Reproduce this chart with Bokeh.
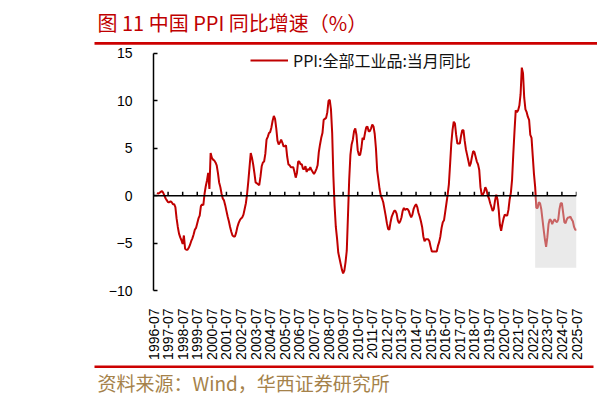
import math
from bokeh.plotting import figure
from bokeh.layouts import column
from bokeh.models import (Range1d, FixedTicker, Span, Legend, LegendItem, ColumnDataSource)
from bokeh.core.properties import value
from bokeh.embed import file_html
from bokeh.resources import INLINE

# ---------------- data (China PPI, YoY %, monthly) ----------------
first_year, first_month = 1996, 10
ppi_1996 = [0.3, 0.2, 0.3]
ppi_1997 = [0.4, 0.5, 0.3, 0.0, -0.3, -0.5, -0.7, -0.7, -0.6, -0.7, -0.9, -0.9]
ppi_1998 = [-1.2, -2.4, -3.3, -4.0, -4.4, -4.7, -5.1, -4.2, -5.6, -5.7, -5.7, -5.5]
ppi_1999 = [-5.2, -4.8, -4.5, -4.1, -3.6, -3.4, -2.9, -2.4, -2.1, -1.1, -0.9, -1.0]
ppi_2000 = [0.2, 1.0, 1.6, 2.4, 0.7, 4.5, 4.0, 3.8, 3.7, 3.5, 3.2, 2.4]
ppi_2001 = [1.4, 0.9, 0.2, -0.3, -0.5, -1.0, -1.6, -2.2, -2.7, -3.3, -3.8, -4.2]
ppi_2002 = [-4.3, -4.3, -3.9, -3.3, -2.9, -2.6, -2.4, -2.3, -2.0, -1.4, -0.8, 0.2]
ppi_2003 = [1.5, 3.0, 4.5, 4.0, 3.3, 2.4, 1.4, 1.3, 1.2, 1.1, 2.0, 3.1]
ppi_2004 = [3.5, 3.6, 4.4, 5.9, 6.2, 6.6, 6.7, 7.2, 7.9, 8.4, 8.1, 7.1]
ppi_2005 = [5.8, 5.4, 5.6, 5.9, 5.6, 5.2, 5.2, 5.3, 4.1, 3.3, 3.2, 3.0]
ppi_2006 = [3.0, 3.0, 2.5, 1.9, 2.4, 3.6, 3.6, 3.3, 3.3, 2.8, 2.8, 3.1]
ppi_2007 = [2.5, 2.8, 2.7, 3.0, 2.7, 2.5, 2.3, 2.5, 2.8, 3.2, 4.6, 5.4]
ppi_2008 = [6.1, 6.6, 8.0, 8.1, 8.2, 8.8, 10.0, 10.1, 9.1, 6.6, 2.0, -1.1]
ppi_2009 = [-3.3, -4.5, -6.0, -6.6, -7.2, -7.8, -8.2, -7.9, -7.0, -5.8, -2.1, 1.7]
ppi_2010 = [4.3, 5.4, 5.9, 6.8, 7.1, 6.4, 4.8, 4.3, 4.3, 5.0, 6.1, 5.9]
ppi_2011 = [6.6, 7.2, 7.3, 6.8, 6.8, 7.1, 7.5, 7.3, 6.5, 5.0, 2.7, 1.7]
ppi_2012 = [0.7, 0.0, -0.3, -0.7, -1.4, -2.1, -2.9, -3.5, -3.6, -2.8, -2.2, -1.9]
ppi_2013 = [-1.6, -1.6, -1.9, -2.6, -2.9, -2.7, -2.3, -1.6, -1.3, -1.5, -1.4, -1.4]
ppi_2014 = [-1.6, -2.0, -2.3, -2.0, -1.4, -1.1, -0.9, -1.2, -1.8, -2.2, -2.7, -3.3]
ppi_2015 = [-4.3, -4.8, -4.6, -4.6, -4.6, -4.8, -5.4, -5.9, -5.9, -5.9, -5.9, -5.9]
ppi_2016 = [-5.3, -4.9, -4.3, -3.4, -2.8, -2.6, -1.7, -0.8, 0.1, 1.2, 3.3, 5.5]
ppi_2017 = [6.9, 7.8, 7.6, 6.4, 5.5, 5.5, 5.5, 6.3, 6.9, 6.9, 5.8, 4.9]
ppi_2018 = [4.3, 3.7, 3.1, 3.4, 4.1, 4.7, 4.6, 4.1, 3.6, 3.3, 2.7, 0.9]
ppi_2019 = [0.1, 0.1, 0.4, 0.9, 0.6, 0.0, -0.3, -0.8, -1.2, -1.6, -1.4, -0.5]
ppi_2020 = [0.1, -0.4, -1.5, -3.1, -3.7, -3.0, -2.4, -2.0, -2.1, -2.1, -1.5, -0.4]
ppi_2021 = [0.3, 1.7, 4.4, 6.8, 9.0, 8.8, 9.0, 9.5, 10.7, 13.5, 12.9, 10.3]
ppi_2022 = [9.1, 8.8, 8.3, 8.0, 6.4, 6.1, 4.2, 2.3, 0.9, -1.3, -1.3, -0.7]
ppi_2023 = [-0.8, -1.4, -2.5, -3.6, -4.6, -5.4, -4.4, -3.0, -2.5, -2.6, -3.0, -2.7]
ppi_2024 = [-2.5, -2.7, -2.8, -2.5, -1.4, -0.8, -0.8, -1.8, -2.8, -2.9, -2.5, -2.3]
ppi_2025 = [-2.3, -2.2, -2.5, -2.7, -3.3, -3.6, -3.6]

tick_years = list(range(1996, 2026))
tick_labels = [f"{y}-07" for y in tick_years]
y_ticks = [-10, -5, 0, 5, 10, 15]
y_tick_labels = ["\u221210", "\u22125", "0", "5", "10", "15"]
shade_start = "2022-09"
shade_end = "2025-07"
shade_bottom = -7.6

series_name = "PPI:全部工业品:当月同比"
title_text = "图 11  中国 PPI 同比增速（%）"
source_text = "资料来源：Wind，华西证券研究所"

# ---------------- build ----------------
def month_index(year, month):
    return (year - 1996) * 12 + (month - 7)

all_years = [ppi_1996, ppi_1997, ppi_1998, ppi_1999, ppi_2000, ppi_2001, ppi_2002,
             ppi_2003, ppi_2004, ppi_2005, ppi_2006, ppi_2007, ppi_2008, ppi_2009,
             ppi_2010, ppi_2011, ppi_2012, ppi_2013, ppi_2014, ppi_2015, ppi_2016,
             ppi_2017, ppi_2018, ppi_2019, ppi_2020, ppi_2021, ppi_2022, ppi_2023,
             ppi_2024, ppi_2025]
values = [v for yr in all_years for v in yr]
start = month_index(first_year, first_month)
ms = list(range(start, start + len(values)))
src = ColumnDataSource(data=dict(m=ms, v=values))

tick_pos = [month_index(int(t[:4]), int(t[5:])) for t in tick_labels]
x_end = tick_pos[-1]

RED = "#C00000"
BAR_RED = "#CC0000"
W = 597

# ---- header ----
hdr = figure(width=W, height=45, x_range=Range1d(0, W), y_range=Range1d(45, 0),
             x_axis_type=None, y_axis_type=None, min_border=0, frame_align=False,
             output_backend="svg", toolbar_location=None)
hdr.grid.visible = False
hdr.outline_line_color = None
hdr.text(x=[97], y=[22], text=[title_text], text_font=value("Noto Sans CJK SC"),
         text_font_size="20px", text_color=RED, text_baseline="middle",
         text_align="left")
hdr.quad(left=[94], right=[W], top=[41.5], bottom=[44.2], fill_color=BAR_RED,
         line_color=None)

# ---- main chart ----
# frame: 248 px tall, 9.6 px per unit; axis line limited to the tick span
px_per_unit = 9.6
y_top = y_ticks[-1] + 8 / px_per_unit
p = figure(width=W, height=317, x_range=Range1d(0, x_end),
           y_range=Range1d(y_ticks[0], y_top),
           output_backend="svg", toolbar_location=None, frame_align=False,
           min_border_left=153, min_border_right=21, min_border_top=0,
           min_border_bottom=69)
p.xgrid.visible = False
p.ygrid.visible = False
p.outline_line_color = None

xa = p.xaxis[0]
xa.ticker = FixedTicker(ticks=tick_pos)
xa.major_label_overrides = {tp: lab for tp, lab in zip(tick_pos, tick_labels)}
xa.major_label_orientation = math.pi / 2
xa.axis_line_color = None
xa.major_tick_line_color = None
xa.minor_tick_line_color = None
xa.major_label_standoff = 12
xa.major_label_text_font = "Liberation Sans"
xa.major_label_text_font_size = "14px"
xa.major_label_text_color = "black"

ya = p.yaxis[0]
ya.ticker = FixedTicker(ticks=y_ticks)
ya.bounds = (y_ticks[0], y_ticks[-1])
ya.major_label_overrides = {t: l for t, l in zip(y_ticks, y_tick_labels)}
ya.major_tick_in = 4
ya.major_tick_out = 0
ya.minor_tick_line_color = None
ya.axis_line_color = "black"
ya.axis_line_width = 1.5
ya.major_tick_line_color = "black"
ya.major_tick_line_width = 1.5
ya.major_label_standoff = 21
ya.major_label_text_font = "Liberation Sans"
ya.major_label_text_font_size = "14px"
ya.major_label_text_color = "black"

line = p.line(x="m", y="v", source=src, line_color=RED, line_width=2)

s0 = month_index(int(shade_start[:4]), int(shade_start[5:]))
s1 = month_index(int(shade_end[:4]), int(shade_end[5:]))
p.quad(left=[s0], right=[s1], bottom=[shade_bottom], top=[0],
       fill_color="#d2d2d2", fill_alpha=0.47, line_color=None)

p.add_layout(Span(location=0, dimension="width", line_color="black", line_width=1.5))
p.ray(x=tick_pos, y=[0] * len(tick_pos), length=4, length_units="screen",
      angle=math.pi / 2, line_color="black", line_width=1.5)

legend = Legend(items=[LegendItem(label=series_name, renderers=[line])],
                location=(97, 218), border_line_color=None, background_fill_alpha=0,
                padding=0, margin=0, spacing=0, glyph_width=38, glyph_height=24,
                label_height=24, label_standoff=5,
                label_text_font="Noto Sans CJK SC", label_text_font_size="16px",
                label_text_color="#111111")
p.add_layout(legend)

# ---- footer ----
ftr = figure(width=W, height=39, x_range=Range1d(0, W), y_range=Range1d(39, 0),
             x_axis_type=None, y_axis_type=None, min_border=0, frame_align=False,
             output_backend="svg", toolbar_location=None)
ftr.grid.visible = False
ftr.outline_line_color = None
ftr.quad(left=[94], right=[593], top=[3], bottom=[5.5], fill_color=BAR_RED,
         line_color=None)
ftr.text(x=[97], y=[20], text=[source_text], text_font=value("Noto Sans CJK SC"),
         text_font_size="19px", text_color="#A5824A", text_baseline="middle",
         text_align="left")

layout = column(hdr, p, ftr, spacing=0)
open("out.html", "w").write(file_html(layout, INLINE))
